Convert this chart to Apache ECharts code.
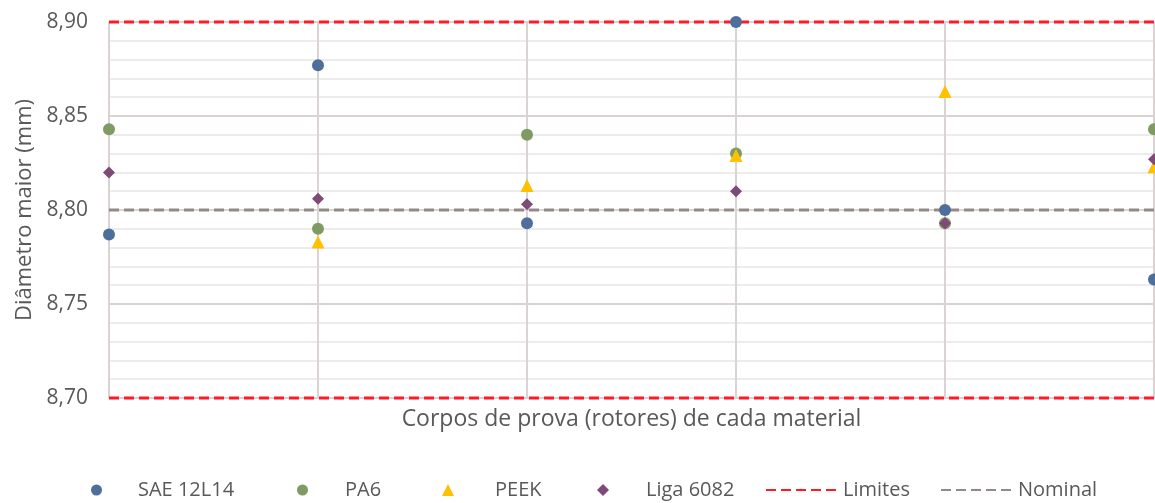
<!DOCTYPE html>
<html>
<head>
<meta charset="utf-8">
<script src="https://cdn.jsdelivr.net/npm/echarts@6/dist/echarts.min.js"></script>
<style>
  html, body { margin: 0; padding: 0; background: #ffffff; }
  #chart { width: 1155px; height: 503px; }
</style>
</head>
<body>
<div id="chart"></div>
<script>
// Specimen index (one rotor per material at each position)
const specimens = [1, 2, 3, 4, 5, 6];

// Measured major diameter (mm) per material
const sae12L14 = [8.787, 8.877, 8.793, 8.900, 8.800, 8.763];
const pa6      = [8.843, 8.790, 8.840, 8.830, 8.793, 8.843];
const peek     = [null,  8.783, 8.813, 8.829, 8.863, 8.823];
const liga6082 = [8.820, 8.806, 8.803, 8.810, 8.793, 8.827];

// Tolerance limits and nominal value (mm)
const limitUpper = 8.90;
const limitLower = 8.70;
const nominal = 8.80;

// Y axis range and ticks
const yMin = 8.70, yMax = 8.90, yStep = 0.05;

const FONT = 'Open Sans';
const TEXT = '#595959';
const GRID_MAJOR = '#d9d3d3';
const GRID_MINOR = '#ececec';

const pts = vals => specimens.map((s, i) => [s, vals[i]]);
const flat = v => [[specimens[0], v], [specimens[specimens.length - 1], v]];

const scatter = (name, vals, symbol, size, color) => ({
  name, type: 'scatter', data: pts(vals), symbol, symbolSize: size,
  itemStyle: { color, opacity: 1 }, z: 5
});

const refLine = (name, v, color) => ({
  name, type: 'line', data: flat(v), symbol: 'none', clip: false,
  lineStyle: { color, width: 3, type: [10, 5], cap: 'butt' },
  itemStyle: { color }, z: 3, silent: true
});

const legendItem = (name, left, icon, w, h, padLeft) => ({
  data: [icon ? { name, icon } : { name }],
  left, top: 480, padding: 0, itemWidth: w, itemHeight: h, itemGap: 0,
  selectedMode: false,
  textStyle: { fontFamily: FONT, fontSize: 20, color: TEXT, padding: [0, 0, 0, padLeft] }
});

const option = {
  backgroundColor: '#ffffff',
  animation: false,
  grid: { left: 109, right: 1, top: 22, bottom: 105 },
  xAxis: {
    type: 'value', min: 1, max: 6, interval: 1,
    name: 'Corpos de prova (rotores) de cada material',
    nameLocation: 'middle', nameGap: 10,
    nameTextStyle: { fontFamily: FONT, fontSize: 23, color: TEXT },
    axisLine: { show: false }, axisTick: { show: false }, axisLabel: { show: false },
    splitLine: { show: true, lineStyle: { color: GRID_MAJOR, width: 2 } }
  },
  yAxis: {
    type: 'value', min: yMin, max: yMax, interval: yStep,
    name: 'Diâmetro maior (mm)',
    nameLocation: 'middle', nameGap: 73, nameRotate: 90,
    nameTextStyle: { fontFamily: FONT, fontSize: 22, color: TEXT },
    axisLine: { show: false }, axisTick: { show: false },
    axisLabel: {
      fontFamily: FONT, fontSize: 21, color: TEXT, margin: 21,
      formatter: v => v.toFixed(2).replace('.', ',')
    },
    splitLine: { show: true, lineStyle: { color: GRID_MAJOR, width: 2 } },
    minorTick: { show: false, splitNumber: 5 },
    minorSplitLine: { show: true, lineStyle: { color: GRID_MINOR, width: 2 } }
  },
  legend: [
    legendItem('SAE 12L14', 91, 'circle', 11, 11, 31),
    legendItem('PA6', 297, 'circle', 11, 11, 32),
    legendItem('PEEK', 442, 'triangle', 12, 12, 36),
    legendItem('Liga 6082', 597, 'diamond', 12, 12, 32),
    legendItem('Limites', 765, null, 70, 3, 2),
    legendItem('Nominal', 940, null, 70, 3, 2)
  ],
  series: [
    refLine('Limites', limitUpper, '#ff1a26'),
    refLine('Limites', limitLower, '#ff1a26'),
    refLine('Nominal', nominal, '#958985'),
    scatter('SAE 12L14', sae12L14, 'circle', 12, '#4e6e9c'),
    scatter('PA6', pa6, 'circle', 12, '#7f9a62'),
    scatter('PEEK', peek, 'triangle', 13, '#ffc000'),
    scatter('Liga 6082', liga6082, 'diamond', 12, '#7f4a78')
  ]
};

echarts.init(document.getElementById('chart')).setOption(option);
</script>
</body>
</html>
